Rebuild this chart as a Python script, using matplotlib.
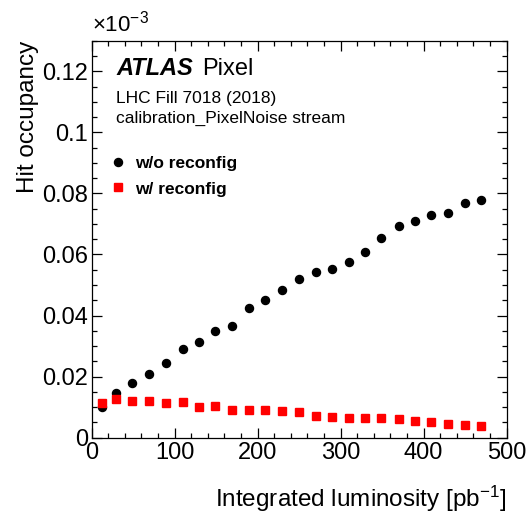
import matplotlib
matplotlib.use("Agg")
import matplotlib.pyplot as plt
from matplotlib.ticker import MultipleLocator, FuncFormatter

plt.rcParams["font.family"] = ["Liberation Sans", "DejaVu Sans"]
plt.rcParams["mathtext.fontset"] = "custom"
plt.rcParams["mathtext.rm"] = "Liberation Sans"
plt.rcParams["mathtext.it"] = "Liberation Sans:italic"
plt.rcParams["mathtext.bf"] = "Liberation Sans:bold"

# data (occupancy in units of 1e-3)
lumi = [12, 29, 49, 69, 89, 110, 129, 149, 169, 190, 209, 229,
        250, 270, 290, 310, 330, 349, 370, 390, 409, 429, 450, 469]
occ_no_reconfig = [0.0099, 0.0145, 0.0178, 0.0209, 0.0245, 0.0289, 0.0315, 0.0348,
                   0.0365, 0.0424, 0.0451, 0.0485, 0.0519, 0.0541, 0.0551, 0.0575,
                   0.0607, 0.0654, 0.0694, 0.0710, 0.0729, 0.0737, 0.0767, 0.0780]
occ_reconfig = [0.0113, 0.0127, 0.0120, 0.0120, 0.0113, 0.0116, 0.0102, 0.0103,
                0.0091, 0.0090, 0.0090, 0.0087, 0.0085, 0.0070, 0.0068, 0.0064,
                0.0064, 0.0064, 0.0060, 0.0056, 0.0050, 0.0044, 0.0042, 0.0037]

fig = plt.figure(figsize=(5.26, 5.12), dpi=100)
ax = fig.add_axes([0.1743, 0.1451, 0.963 - 0.1743, 0.9205 - 0.1451])

ax.plot(lumi, occ_no_reconfig, "o", color="black", markersize=5.8, label="w/o reconfig")
ax.plot(lumi, occ_reconfig, "s", color="red", markersize=5.4, label="w/ reconfig")

ax.set_xlim(0, 500)
ax.set_ylim(0, 0.13)
ax.xaxis.set_major_locator(MultipleLocator(100))
ax.xaxis.set_minor_locator(MultipleLocator(20))
ax.yaxis.set_major_locator(MultipleLocator(0.02))
ax.yaxis.set_minor_locator(MultipleLocator(0.005))
ax.yaxis.set_major_formatter(FuncFormatter(lambda v, p: "%g" % round(v, 4)))
ax.tick_params(which="both", direction="in", top=True, right=True, width=0.9)
ax.tick_params(which="major", length=7, labelsize=17)
ax.tick_params(axis="y", which="major", pad=2.5)
ax.tick_params(axis="x", which="major", pad=3)
ax.tick_params(which="minor", length=3.5)
for s in ax.spines.values():
    s.set_linewidth(0.9)

ax.set_xlabel("Integrated luminosity [pb$^{-1}$]", fontsize=17.5, loc="right", labelpad=14)
ax.set_ylabel("Hit occupancy", fontsize=17.5, loc="top", labelpad=2)
ax.text(0.0, 1.01, r"$\times$10$^{-3}$", transform=ax.transAxes, fontsize=16,
        ha="left", va="bottom")

ax.text(0.0586, 0.913, "ATLAS", transform=ax.transAxes, fontsize=17,
        fontweight="bold", fontstyle="italic")
ax.text(0.2655, 0.913, "Pixel", transform=ax.transAxes, fontsize=17)
ax.text(0.0586, 0.842, "LHC Fill 7018 (2018)", transform=ax.transAxes, fontsize=12.5)
ax.text(0.0586, 0.793, "calibration_PixelNoise stream", transform=ax.transAxes, fontsize=12.5)

leg = ax.legend(loc="upper left", bbox_to_anchor=(0.0417, 0.71), frameon=False,
                prop={"weight": "bold", "size": 12.5}, handletextpad=0.5,
                labelspacing=0.6, handlelength=1.0, borderpad=0, borderaxespad=0)

fig.savefig("out.png", dpi=100)
